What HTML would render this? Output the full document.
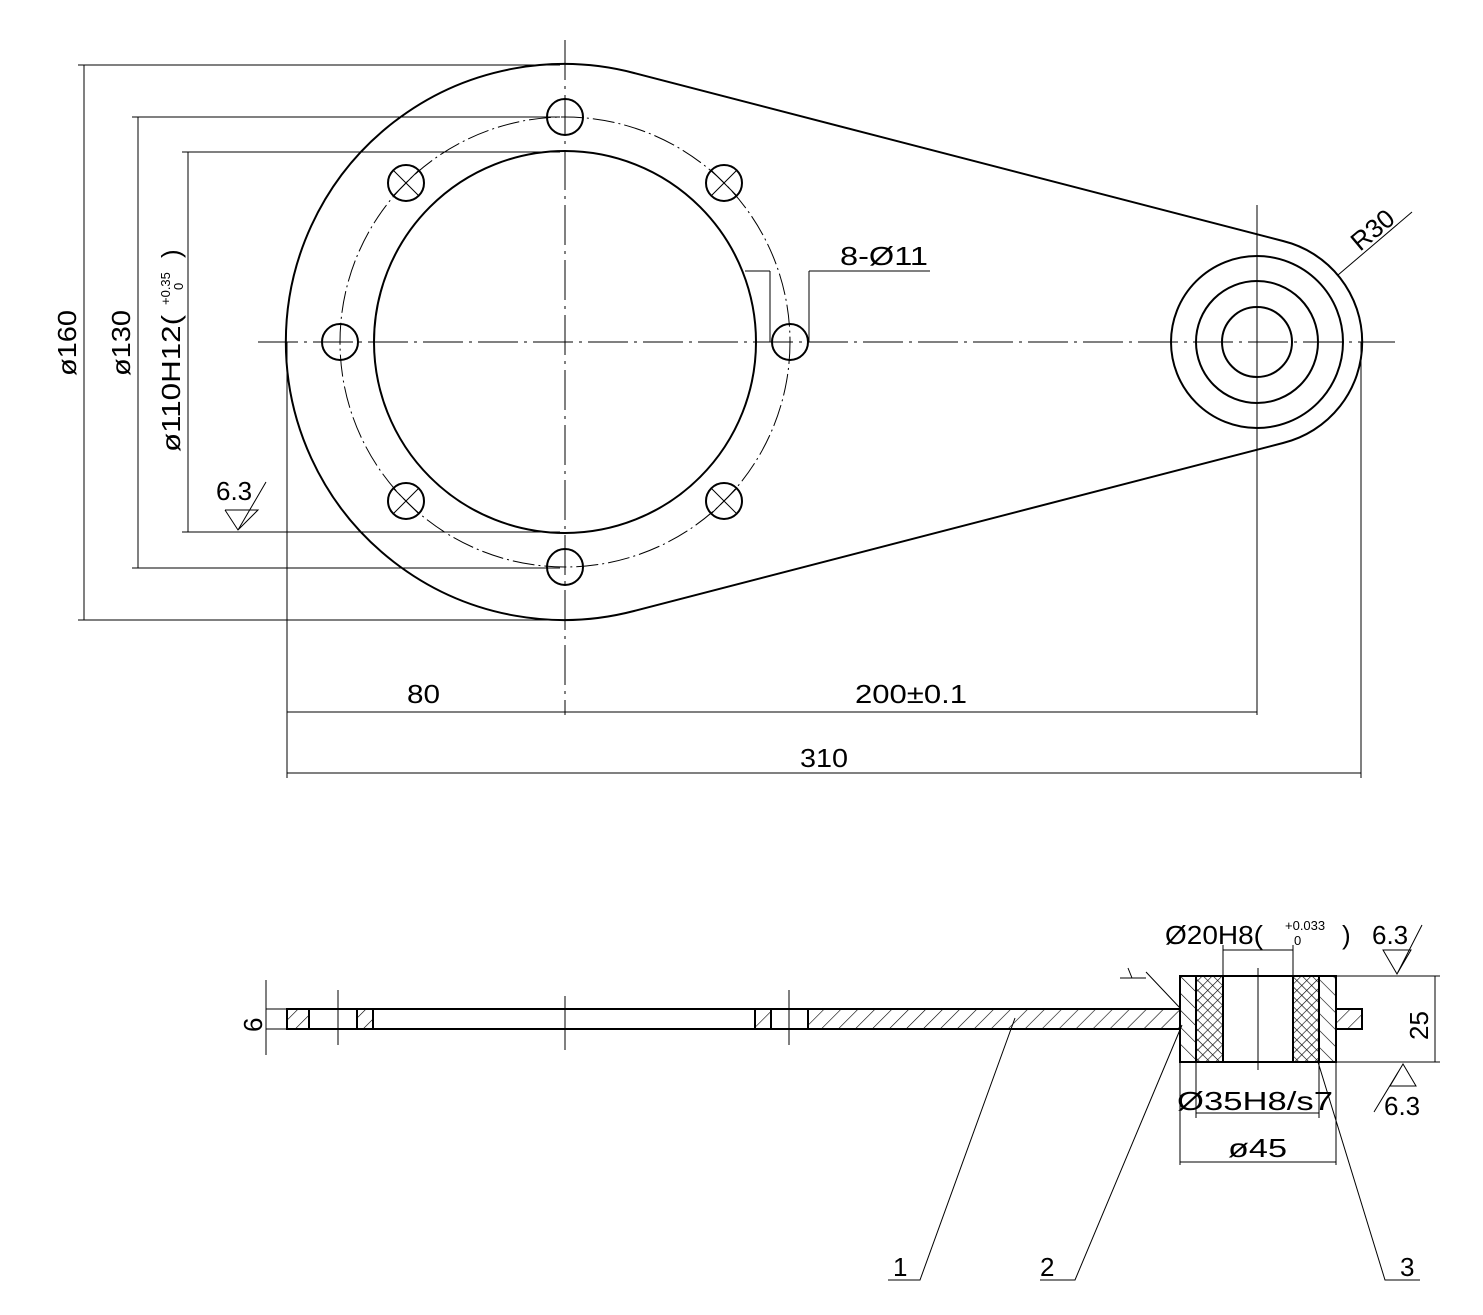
<!DOCTYPE html>
<html><head><meta charset="utf-8"><style>html,body{margin:0;padding:0;background:#fff}svg{display:block}</style></head>
<body>
<svg width="1483" height="1315" viewBox="0 0 1483 1315" xmlns="http://www.w3.org/2000/svg">
<defs>
<pattern id="h1" patternUnits="userSpaceOnUse" width="12" height="12" patternTransform="rotate(45)"><line x1="0" y1="0" x2="0" y2="12" stroke="#000" stroke-width="1.2"/></pattern>
<pattern id="h2" patternUnits="userSpaceOnUse" width="12" height="12" patternTransform="rotate(-45)"><line x1="0" y1="0" x2="0" y2="12" stroke="#000" stroke-width="1.2"/></pattern>
<pattern id="hx" patternUnits="userSpaceOnUse" width="7" height="7" patternTransform="rotate(45)"><path d="M0 0V7M0 0H7" stroke="#000" stroke-width="1.2"/></pattern>
</defs>
<g fill="none" stroke="#000" font-family="Liberation Sans, sans-serif">
<path d="M634 73 L1283 241 A104 104 0 0 1 1283 443 L634 611 A278 278 0 1 1 634 73 Z" stroke-width="2"/>
<circle cx="565" cy="342" r="191" stroke-width="2"/>
<circle cx="565" cy="342" r="225" stroke-width="1" stroke-dasharray="22 4 2 4"/>
<g stroke-width="2">
<circle cx="565" cy="117" r="18"/><circle cx="565" cy="567" r="18"/><circle cx="340" cy="342" r="18"/><circle cx="790" cy="342" r="18"/>
<circle cx="406" cy="183" r="18"/><circle cx="724" cy="183" r="18"/><circle cx="406" cy="501" r="18"/><circle cx="724" cy="501" r="18"/>
</g>
<g stroke-width="1">
<path d="M393 170l26 26M419 170l-26 26M711 170l26 26M737 170l-26 26M393 488l26 26M419 488l-26 26M711 488l26 26M737 488l-26 26"/>
</g>
<g stroke-width="2"><circle cx="1257" cy="342" r="86"/><circle cx="1257" cy="342" r="61"/><circle cx="1257" cy="342" r="35"/></g>
<g stroke-width="1" stroke-dasharray="40 6 3 6">
<line x1="258" y1="342" x2="1395" y2="342"/>
<line x1="565" y1="40" x2="565" y2="715"/>
</g>
<line x1="1257" y1="205" x2="1257" y2="715" stroke-width="1"/>
<g stroke-width="1">
<path d="M78 65H560M132 117H560M182 152H560M78 620H560M132 568H560M182 532H560"/>
<path d="M84 65V620M138 117V568M188 152V532"/>
<path d="M287 342V778M1361 342V778M287 712H1257M287 773H1361"/>
<path d="M770 271V342M809 271V342M745 271H770M809 271H930"/>
<path d="M1338 275L1412 212"/>
<path d="M225 510H258L238 530L225 510M238 530L266 482"/>
</g>
<g fill="#000" stroke="none" font-size="26">
<text transform="translate(76 376) rotate(-90)" textLength="66" lengthAdjust="spacingAndGlyphs">ø160</text>
<text transform="translate(130 376) rotate(-90)" textLength="66" lengthAdjust="spacingAndGlyphs">ø130</text>
<text transform="translate(180 452) rotate(-90)" textLength="137" lengthAdjust="spacingAndGlyphs">ø110H12(</text>
<text transform="translate(170 305) rotate(-90)" font-size="13">+0.35</text>
<text transform="translate(183 290) rotate(-90)" font-size="13">0</text>
<text transform="translate(180 258) rotate(-90)">)</text>
<text x="216" y="500">6.3</text>
<text x="407" y="703" textLength="33" lengthAdjust="spacingAndGlyphs">80</text>
<text x="855" y="703" textLength="112" lengthAdjust="spacingAndGlyphs">200±0.1</text>
<text x="800" y="767" textLength="48" lengthAdjust="spacingAndGlyphs">310</text>
<text x="840" y="265" textLength="88" lengthAdjust="spacingAndGlyphs">8-Ø11</text>
<text transform="translate(1360 252) rotate(-40)">R30</text>
</g>
<g stroke-width="2">
<rect x="287" y="1009" width="22" height="20" fill="url(#h1)"/>
<rect x="357" y="1009" width="16" height="20" fill="url(#h1)"/>
<line x1="373" y1="1009" x2="755" y2="1009"/><line x1="373" y1="1029" x2="755" y2="1029"/>
<line x1="309" y1="1009" x2="357" y2="1009"/><line x1="309" y1="1029" x2="357" y2="1029"/>
<rect x="755" y="1009" width="16" height="20" fill="url(#h1)"/>
<line x1="771" y1="1009" x2="808" y2="1009"/><line x1="771" y1="1029" x2="808" y2="1029"/>
<rect x="808" y="1009" width="372" height="20" fill="url(#h1)"/>
<rect x="1180" y="976" width="16" height="86" fill="url(#h2)"/>
<rect x="1196" y="976" width="27" height="86" fill="url(#hx)"/>
<rect x="1293" y="976" width="26" height="86" fill="url(#hx)"/>
<rect x="1319" y="976" width="17" height="86" fill="url(#h2)"/>
<path d="M1223 976H1293M1223 1062H1293"/>
<rect x="1336" y="1009" width="26" height="20" fill="url(#h1)"/>
</g>
<g stroke-width="1">
<path d="M338 990V1045M565 996V1050M789 990V1045M1258 968V1070"/>
<path d="M266 980V1055M266 1009H287M266 1029H287"/>
<path d="M1223 976V945M1293 976V945M1223 950H1293"/>
<path d="M1196 1062V1118M1319 1062V1118M1196 1113H1319"/>
<path d="M1180 1062V1165M1336 1062V1165M1180 1162H1336"/>
<path d="M1336 976H1440M1336 1062H1440M1435 976V1062"/>
<path d="M1383 950H1411L1397 974Z M1397 974L1422 925"/>
<path d="M1390 1086H1416L1403 1064Z M1403 1064L1374 1112"/>
<path d="M1015 1018L920 1280H888M1182 1025L1075 1280H1040M1318 1062L1385 1280H1420"/>
<path d="M1180 1008L1146 972M1120 978H1146M1128 968L1132 978"/>
</g>
<g fill="#000" stroke="none" font-size="26">
<text transform="translate(262 1032) rotate(-90)">6</text>
<text x="1165" y="944" textLength="98" lengthAdjust="spacingAndGlyphs">Ø20H8(</text>
<text x="1285" y="930" font-size="13">+0.033</text>
<text x="1294" y="945" font-size="13">0</text>
<text x="1342" y="944">)</text>
<text x="1372" y="944">6.3</text>
<text x="1177" y="1110" textLength="156" lengthAdjust="spacingAndGlyphs">Ø35H8/s7</text>
<text x="1384" y="1115">6.3</text>
<text x="1228" y="1157" textLength="59" lengthAdjust="spacingAndGlyphs">ø45</text>
<text transform="translate(1428 1040) rotate(-90)">25</text>
<text x="893" y="1276">1</text>
<text x="1040" y="1276">2</text>
<text x="1400" y="1276">3</text>
</g>
</g>
</svg>
</body></html>
